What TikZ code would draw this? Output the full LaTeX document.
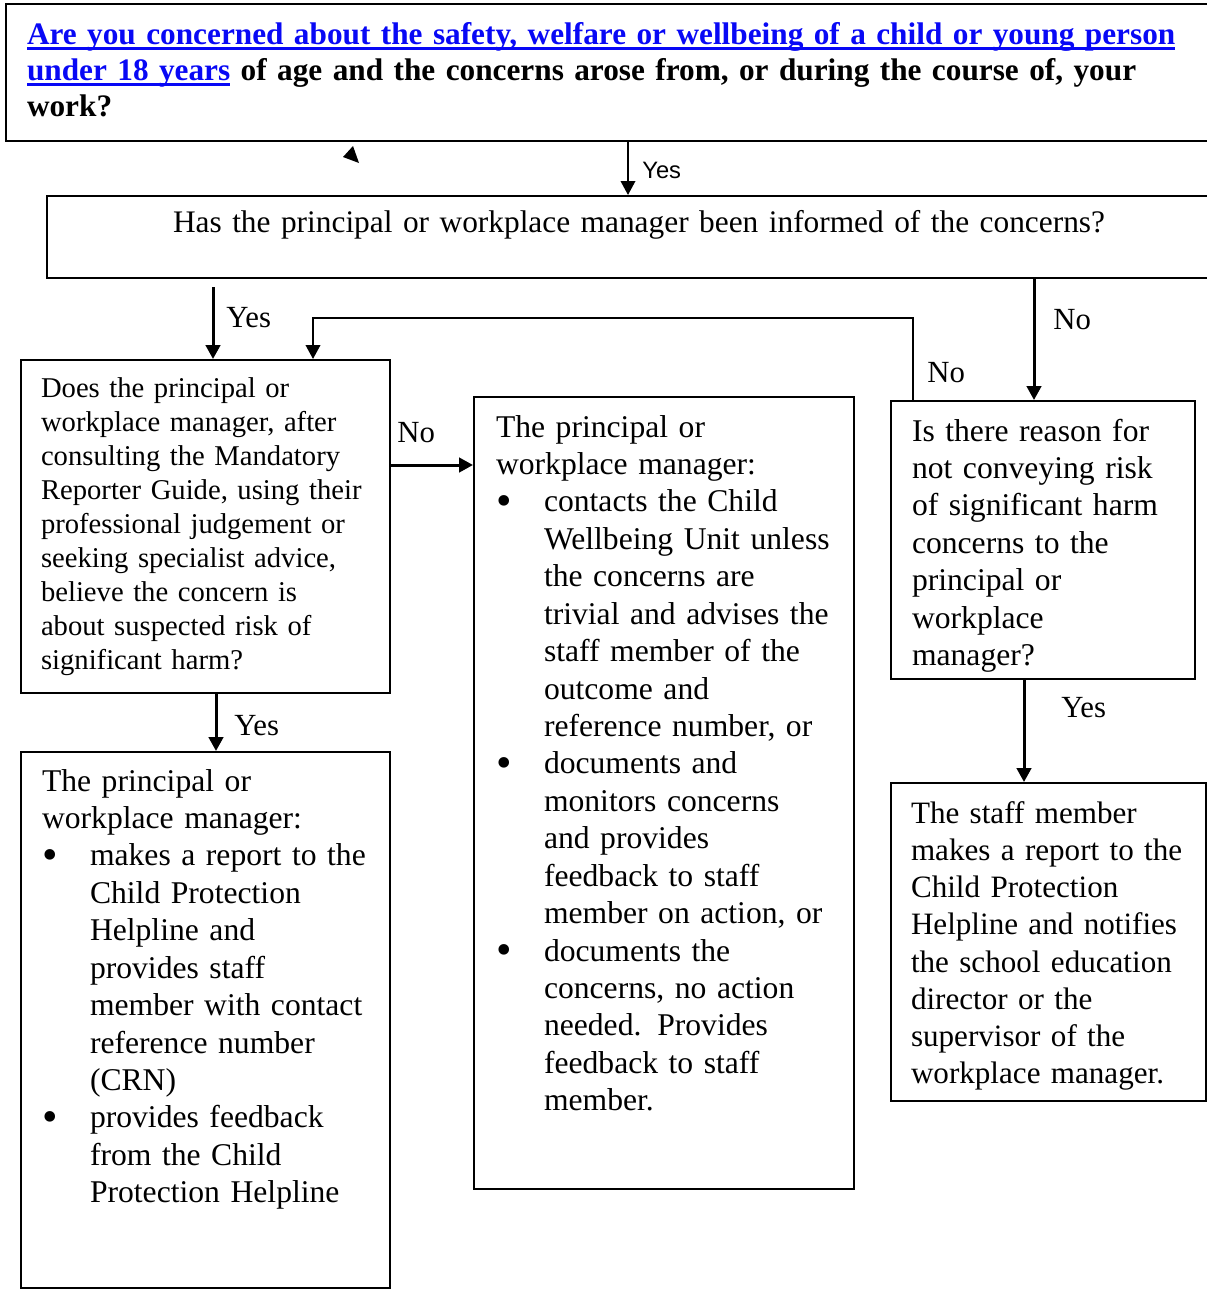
\documentclass[tikz,border=0pt]{standalone}
\usepackage{fontspec}
\setmainfont{Liberation Serif}
\setsansfont{Liberation Sans}
\usetikzlibrary{arrows.meta}
\definecolor{linkblue}{RGB}{8,8,245}
\newcommand\lnk[1]{\textcolor{linkblue}{\setbox0\hbox{#1}\rlap{\rule[-3.2pt]{\wd0}{1.5pt}}\box0}}
\newcommand\bitem{\makebox[9.6mm][l]{\raisebox{-0.12em}{\scalebox{1.4}{\textbullet}}}}
\newcommand\bind{\hspace*{9.6mm}}
\begin{document}
\begin{tikzpicture}[x=0.2mm,y=-0.2mm,
    box/.style={draw,line width=0.4mm,anchor=north west,align=left,inner ysep=0pt},
    body/.style={font=\fontsize{18}{21.3}\selectfont},
    arr/.style={line width=0.6mm,-{Triangle[length=2.8mm,width=2.9mm]}},
    lab/.style={anchor=west,inner sep=0pt,font=\fontsize{17.5}{20}\selectfont}]
\useasboundingbox (0,0) rectangle (1207,1296);

\node[box,inner xsep=4.2mm,text width=236.6mm,text height=8mm,text depth=19.4mm,
    font=\fontsize{17.8}{20.7}\selectfont\bfseries] (topq) at (5,3)
    {\lnk{Are you concerned about the safety, welfare or wellbeing of a child or young person}\\
     \lnk{under 18 years} of age and the concerns arose from, or during the course of, your\\
     work?};
\node[box,align=center,inner xsep=4mm,text width=228.8mm,text height=7.3mm,text depth=9.1mm,
    font=\fontsize{17.85}{20}\selectfont] (manq) at (46,195)
    {Has the principal or workplace manager been informed of the concerns?};
\node[box,inner xsep=4mm,text width=65.8mm,text height=7.4mm,text depth=59.2mm,
    font=\fontsize{16.3}{19.4}\selectfont] (qc) at (20,359)
    {Does the principal or\\
     workplace manager, after\\
     consulting the Mandatory\\
     Reporter Guide, using their\\
     professional judgement or\\
     seeking specialist advice,\\
     believe the concern is\\
     about suspected risk of\\
     significant harm?};
\node[box,body,inner xsep=4.4mm,text width=67.2mm,text height=8mm,text depth=150.4mm] (pe) at (473,396)
    {The principal or\\
     workplace manager:\\
     \bitem contacts the Child\\
     \bind Wellbeing Unit unless\\
     \bind the concerns are\\
     \bind trivial and advises the\\
     \bind staff member of the\\
     \bind outcome and\\
     \bind reference number, or\\
     \bitem documents and\\
     \bind monitors concerns\\
     \bind and provides\\
     \bind feedback to staff\\
     \bind member on action, or\\
     \bitem documents the\\
     \bind concerns, no action\\
     \bind needed. Provides\\
     \bind feedback to staff\\
     \bind member.};
\node[box,body,inner xsep=4.2mm,text width=52.4mm,text height=8mm,text depth=47.6mm] (qd) at (890,400)
    {Is there reason for\\
     not conveying risk\\
     of significant harm\\
     concerns to the\\
     principal or\\
     workplace\\
     manager?};
\node[box,body,inner xsep=4.2mm,text width=65.4mm,text height=7.8mm,text depth=99.4mm] (pf) at (20,751)
    {The principal or\\
     workplace manager:\\
     \bitem makes a report to the\\
     \bind Child Protection\\
     \bind Helpline and\\
     \bind provides staff\\
     \bind member with contact\\
     \bind reference number\\
     \bind (CRN)\\
     \bitem provides feedback\\
     \bind from the Child\\
     \bind Protection Helpline};
\node[box,inner xsep=4mm,text width=55mm,text height=8mm,text depth=55.6mm,
    font=\fontsize{17.7}{21.2}\selectfont] (sg) at (890,782)
    {The staff member\\
     makes a report to the\\
     Child Protection\\
     Helpline and notifies\\
     the school education\\
     director or the\\
     supervisor of the\\
     workplace manager.};

\coordinate (ytop) at (628,0);
\coordinate (yleft) at (213,287);
\coordinate (nright) at (1034,0);
\coordinate (nturn) at (913,318);
\coordinate (nback) at (313,318);
\coordinate (nmid) at (0,465);
\coordinate (yc) at (216,0);
\coordinate (yd) at (1024,0);

\draw[arr,line width=0.4mm] (topq.south -| ytop) -- (manq.north -| ytop);
\draw[arr] (yleft) -- (yleft |- qc.north);
\draw[arr] (manq.south -| nright) -- (qd.north -| nright);
\draw[arr,line width=0.45mm] (qd.north -| nturn) -- (nturn) -- (nback) -- (nback |- qc.north);
\draw[arr] (qc.east |- nmid) -- (pe.west |- nmid);
\draw[arr] (qc.south -| yc) -- (pf.north -| yc);
\draw[arr] (qd.south -| yd) -- (sg.north -| yd);

\fill (353,146) -- (343,157) -- (359,163) -- cycle;

\node[lab,font=\sffamily\fontsize{13.5}{16}\selectfont] (l1) at (642,170) {Yes};
\node[lab] (l2) at (226,318) {Yes};
\node[lab] (l3) at (1053,320) {No};
\node[lab] (l4) at (927,373) {No};
\node[lab] (l5) at (397,433) {No};
\node[lab] (l6) at (234,726) {Yes};
\node[lab] (l7) at (1061,708) {Yes};
\end{tikzpicture}
\end{document}
